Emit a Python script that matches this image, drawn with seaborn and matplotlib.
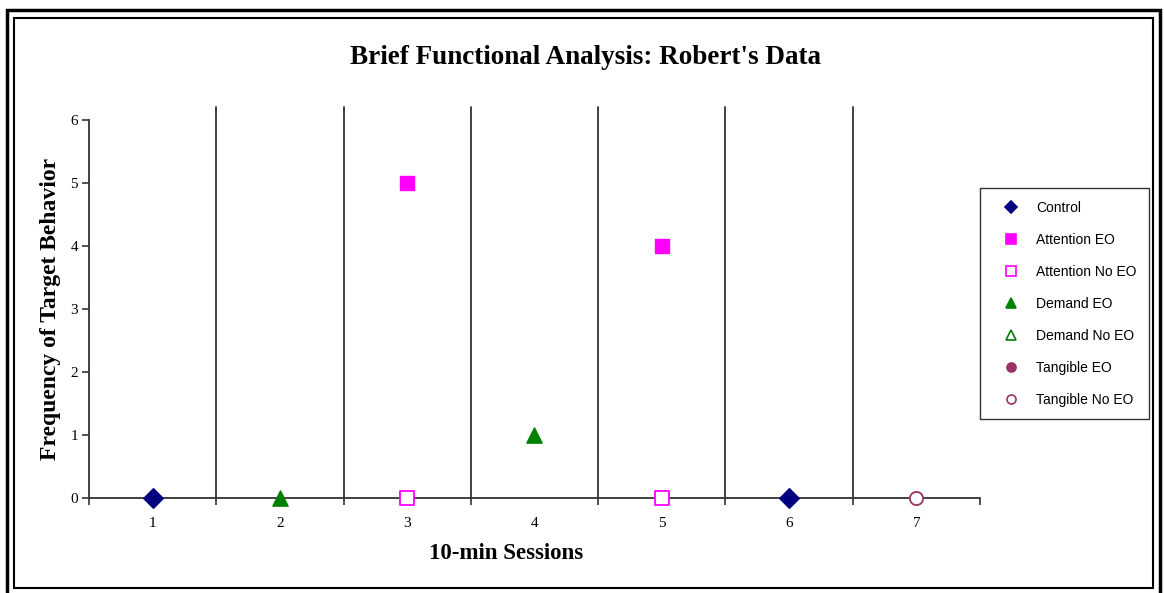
import matplotlib
matplotlib.use("Agg")
import matplotlib.pyplot as plt
import seaborn as sns
import pandas as pd
from matplotlib.lines import Line2D
from matplotlib.patches import Rectangle

sns.set_theme(style="white")
plt.rcParams['font.family'] = ['Liberation Serif', 'DejaVu Serif']
plt.rcParams['text.color'] = 'black'
plt.rcParams['axes.labelcolor'] = 'black'
plt.rcParams['xtick.color'] = 'black'
plt.rcParams['ytick.color'] = 'black'

sessions = [1, 2, 3, 4, 5, 6, 7]
series_names = ["Control", "Attention EO", "Attention No EO", "Demand EO",
                "Demand No EO", "Tangible EO", "Tangible No EO"]
control_x = [1, 6]
control_y = [0, 0]
attention_eo_x = [3, 5]
attention_eo_y = [5, 4]
attention_noeo_x = [3, 5]
attention_noeo_y = [0, 0]
demand_eo_x = [2, 4]
demand_eo_y = [0, 1]
demand_noeo_x = []
demand_noeo_y = []
tangible_eo_x = []
tangible_eo_y = []
tangible_noeo_x = [7]
tangible_noeo_y = [0]
phase_lines = [1.5, 2.5, 3.5, 4.5, 5.5, 6.5]
y_ticks = [0, 1, 2, 3, 4, 5, 6]

data = {
    "Control": (control_x, control_y),
    "Attention EO": (attention_eo_x, attention_eo_y),
    "Attention No EO": (attention_noeo_x, attention_noeo_y),
    "Demand EO": (demand_eo_x, demand_eo_y),
    "Demand No EO": (demand_noeo_x, demand_noeo_y),
    "Tangible EO": (tangible_eo_x, tangible_eo_y),
    "Tangible No EO": (tangible_noeo_x, tangible_noeo_y),
}
styles = {
    "Control": dict(marker="D", ec="#000080", fc="#000080", s=100, lw=1),
    "Attention EO": dict(marker="s", ec="#FF00FF", fc="#FF00FF", s=95, lw=1),
    "Attention No EO": dict(marker="s", ec="#FF00FF", fc="white", s=95, lw=1.3),
    "Demand EO": dict(marker="^", ec="#008000", fc="#008000", s=120, lw=1),
    "Demand No EO": dict(marker="^", ec="#008000", fc="white", s=120, lw=1.3),
    "Tangible EO": dict(marker="o", ec="#993366", fc="#993366", s=90, lw=1),
    "Tangible No EO": dict(marker="o", ec="#993366", fc="white", s=90, lw=1.3),
}

fig = plt.figure(figsize=(11.64, 5.93), dpi=100)
ax = fig.add_axes([89/1164, 1-498/593, (980-89)/1164, (498-120)/593])

for name in series_names:
    xs, ys = data[name]
    if len(xs) == 0:
        continue
    st = styles[name]
    df = pd.DataFrame({"x": xs, "y": ys})
    sns.scatterplot(data=df, x="x", y="y", ax=ax, marker=st["marker"], s=st["s"],
                    color=st["fc"], edgecolor=st["ec"], linewidth=st["lw"],
                    zorder=5, clip_on=False, legend=False)

for xv in phase_lines:
    ax.plot([xv, xv], [0, 6.2], color="#333333", lw=1.3, clip_on=False, zorder=2)

ax.set_xlim(0.5, 7.5)
ax.set_ylim(0, 6)
ax.set_xticks([0.5] + phase_lines + [7.5])
ax.set_xticklabels([])
ax.set_xticks(sessions, minor=True)
ax.set_xticklabels([str(s) for s in sessions], minor=True, fontsize=11)
ax.tick_params(axis="x", which="major", direction="out", length=5, width=1.2, color="#333333", bottom=True)
ax.tick_params(axis="x", which="minor", length=0, pad=14, bottom=True)
ax.set_yticks(y_ticks)
ax.set_yticklabels([str(v) for v in y_ticks], fontsize=11)
ax.tick_params(axis="y", direction="out", length=5, width=1.2, color="#333333", left=True, pad=3)
for side in ["top", "right"]:
    ax.spines[side].set_visible(False)
for side in ["left", "bottom"]:
    ax.spines[side].set_color("#333333")
    ax.spines[side].set_linewidth(1.3)

ax.set_xlabel("10-min Sessions", fontsize=16.5, fontweight="bold", labelpad=8)
ax.xaxis.set_label_coords((506 - 89) / 891, -0.119)
ax.set_ylabel("Frequency of Target Behavior", fontsize=17, fontweight="bold", labelpad=7)
fig.text(586/1164, 1-57/593, "Brief Functional Analysis: Robert's Data",
         ha="center", va="center", fontsize=19.5, fontweight="bold", color="black")

handles = []
for name in series_names:
    st = styles[name]
    handles.append(Line2D([], [], linestyle="none", marker=st["marker"],
                          markersize=6.5 if st["marker"] != "^" else 7,
                          markerfacecolor=st["fc"], markeredgecolor=st["ec"],
                          markeredgewidth=1.2))
leg = fig.legend(handles, series_names, loc="upper left",
                 bbox_to_anchor=(980/1164, 1-188/593), bbox_transform=fig.transFigure,
                 prop={"family": "Liberation Sans", "size": 10},
                 frameon=True, fancybox=False, edgecolor="black",
                 labelspacing=1.3, borderpad=0.9, handletextpad=0.55, handlelength=2.6,
                 borderaxespad=0)
leg.get_frame().set_linewidth(1.0)
for t in leg.get_texts():
    t.set_color("black")

fig.patches.append(Rectangle((7/1164, -0.01), (1160-7)/1164, (593-10)/593 + 0.01,
                             transform=fig.transFigure, fill=False, ec="black", lw=2.5))
fig.patches.append(Rectangle((14/1164, 1-588/593), (1153-14)/1164, (588-18)/593,
                             transform=fig.transFigure, fill=False, ec="black", lw=1.5))

fig.savefig("out.png", dpi=100)
